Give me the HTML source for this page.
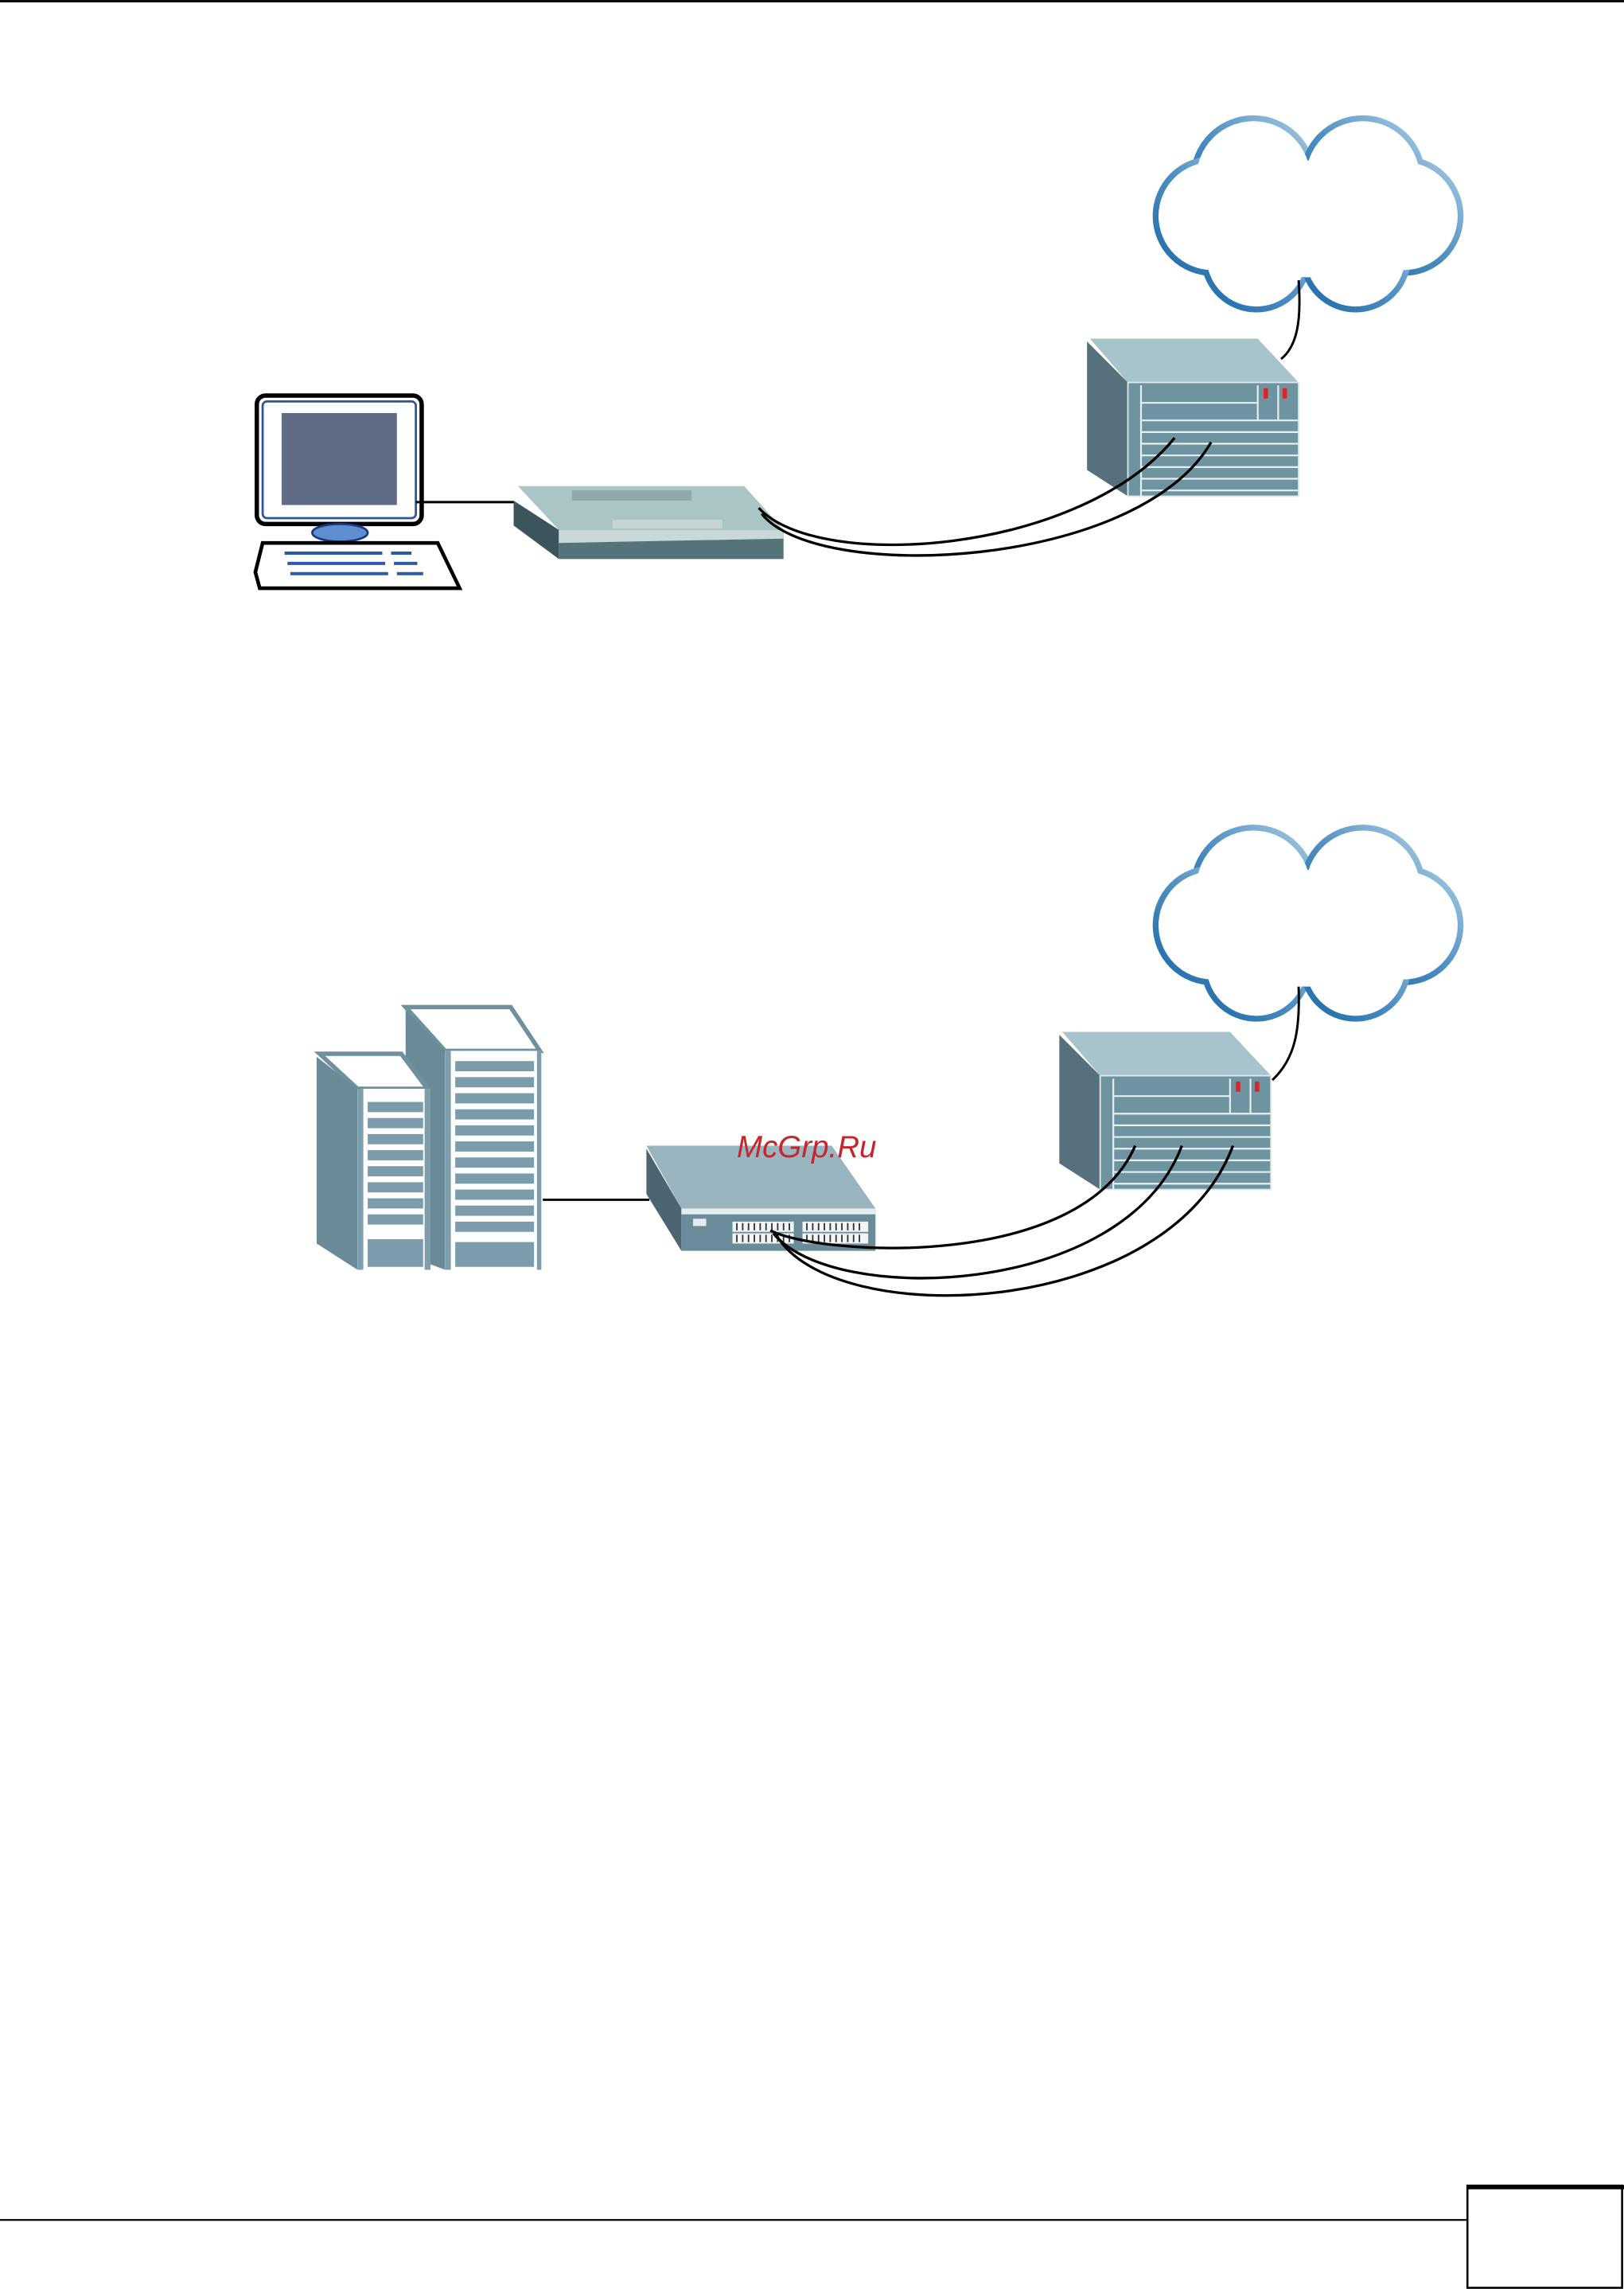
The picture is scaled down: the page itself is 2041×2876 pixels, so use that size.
<!DOCTYPE html>
<html><head><meta charset="utf-8"><style>
html,body{margin:0;padding:0;background:#fff;}
svg{display:block;}
</style></head><body>
<svg width="2041" height="2876" viewBox="0 0 1113 1568.3" xmlns="http://www.w3.org/2000/svg">
<defs>
<linearGradient id="cg" x1="0" y1="1" x2="1" y2="0">
<stop offset="0" stop-color="#1c6aa8"/><stop offset="0.5" stop-color="#4f8fc2"/><stop offset="1" stop-color="#a8cbe3"/>
</linearGradient>
<g id="cloud">
<g fill="none" stroke="url(#cg)" stroke-width="6">
<circle cx="859" cy="122" r="40"/><circle cx="934" cy="122" r="40"/>
<circle cx="831" cy="148" r="38"/><circle cx="962" cy="148" r="38"/>
<circle cx="861" cy="176" r="35"/><circle cx="929" cy="176" r="35"/>
</g>
<g fill="#fff">
<circle cx="859" cy="122" r="39"/><circle cx="934" cy="122" r="39"/>
<circle cx="831" cy="148" r="37"/><circle cx="962" cy="148" r="37"/>
<circle cx="861" cy="176" r="34"/><circle cx="929" cy="176" r="34"/>
<circle cx="896" cy="150" r="40"/>
</g>
</g>
<g id="rack">
<polygon points="747,232 862,232 890,262 773,262" fill="#a7c3cb"/>
<polygon points="745,234 773,262 773,340 745,322" fill="#56707c"/>
<rect x="773" y="262" width="117" height="78" fill="#6e94a2"/>
<rect x="773" y="262" width="117" height="78" fill="none" stroke="#dfe9ec" stroke-width="1"/>
<g stroke="#e6eef0" stroke-width="1.2">
<line x1="782" y1="276" x2="862" y2="276"/>
<line x1="782" y1="288" x2="890" y2="288"/>
<line x1="782" y1="296" x2="890" y2="296"/>
<line x1="782" y1="304" x2="890" y2="304"/>
<line x1="782" y1="312" x2="890" y2="312"/>
<line x1="782" y1="320" x2="890" y2="320"/>
<line x1="782" y1="328" x2="890" y2="328"/>
<line x1="782" y1="336" x2="890" y2="336"/>
<line x1="782" y1="264" x2="782" y2="340"/>
<line x1="862" y1="264" x2="862" y2="288"/>
<line x1="876" y1="264" x2="876" y2="288"/>
</g>
<rect x="866" y="266" width="3" height="7" fill="#d8262a"/>
<rect x="879" y="266" width="3" height="7" fill="#d8262a"/>
</g>
</defs>

<rect x="0" y="0" width="1113" height="1.6" fill="#000"/>
<rect x="0" y="1520.4" width="1005" height="1.2" fill="#000"/>
<rect x="1005.7" y="1497.5" width="106" height="70" fill="none" stroke="#000" stroke-width="1.4"/>
<rect x="1005" y="1497" width="108" height="3" fill="#000"/>

<use href="#cloud"/>
<path d="M890,192 C 892,220 889,237 878,246" fill="none" stroke="#000" stroke-width="1.6"/>
<use href="#rack"/>

<rect x="176" y="271" width="113" height="88" rx="6" fill="#fff" stroke="#000" stroke-width="3"/>
<rect x="180" y="275" width="105" height="80" rx="3" fill="none" stroke="#2a55a0" stroke-width="1.5"/>
<rect x="193" y="283" width="79" height="63" fill="#606b86"/>
<ellipse cx="233" cy="365" rx="19" ry="6" fill="#5e8ed0" stroke="#1a3a80" stroke-width="1.5"/>
<polygon points="180,372 300,372 315,403 178,403 175,392" fill="#fff" stroke="#000" stroke-width="2.5"/>
<g stroke="#2b5aa8" stroke-width="2.2">
<line x1="195" y1="379" x2="262" y2="379"/><line x1="268" y1="379" x2="282" y2="379"/>
<line x1="197" y1="386" x2="264" y2="386"/><line x1="270" y1="386" x2="286" y2="386"/>
<line x1="199" y1="393" x2="266" y2="393"/><line x1="272" y1="393" x2="290" y2="393"/>
</g>
<line x1="285" y1="344" x2="352" y2="344" stroke="#000" stroke-width="1.6"/>

<polygon points="355,333 510,333 537,363 383,363" fill="#a9c5c6"/>
<rect x="392" y="336" width="82" height="7" fill="#8fa9ab"/>
<polygon points="352,343 383,363 383,383 352,360" fill="#3c545c"/>
<rect x="383" y="363" width="154" height="20" fill="#557479"/>
<polygon points="383,363 537,363 537,369 383,372" fill="#c9d9da"/>
<rect x="420" y="356" width="75" height="6" fill="#c5d5d6"/>

<path d="M520,348 C 560,392 740,380 805,300" fill="none" stroke="#000" stroke-width="1.8"/>
<path d="M522,352 C 560,400 780,390 830,303" fill="none" stroke="#000" stroke-width="1.8"/>

<g transform="translate(0,486)"><use href="#cloud"/></g>
<path d="M890,676 C 891,705 888,725 872,740" fill="none" stroke="#000" stroke-width="1.6"/>
<g transform="translate(-19,475)"><use href="#rack"/></g>

<polygon points="278,690 350,690 370,720 305,720" fill="#fff" stroke="#6f909e" stroke-width="3"/>
<polygon points="278,692 305,720 305,870 278,860" fill="#6b8a97"/>
<rect x="305" y="720" width="66" height="150" fill="#fff"/>
<rect x="305" y="720" width="4" height="150" fill="#7e9eab"/>
<rect x="368" y="720" width="3" height="150" fill="#7e9eab"/>
<g fill="#7b9cab">
<rect x="312" y="727" width="54" height="7"/><rect x="312" y="738" width="54" height="7"/>
<rect x="312" y="749" width="54" height="7"/><rect x="312" y="760" width="54" height="7"/>
<rect x="312" y="771" width="54" height="7"/><rect x="312" y="782" width="54" height="7"/>
<rect x="312" y="793" width="54" height="7"/><rect x="312" y="804" width="54" height="7"/>
<rect x="312" y="815" width="54" height="7"/><rect x="312" y="826" width="54" height="7"/>
<rect x="312" y="837" width="54" height="7"/><rect x="312" y="851" width="54" height="17"/>
</g>
<polygon points="219,722 275,722 293,746 245,746" fill="#fff" stroke="#6f909e" stroke-width="3"/>
<polygon points="217,724 245,746 245,870 217,852" fill="#6b8a97"/>
<rect x="245" y="746" width="50" height="124" fill="#fff"/>
<rect x="245" y="746" width="4" height="124" fill="#7e9eab"/>
<rect x="291" y="746" width="4" height="124" fill="#7e9eab"/>
<g fill="#7b9cab">
<rect x="252" y="755" width="38" height="7"/><rect x="252" y="766" width="38" height="7"/>
<rect x="252" y="777" width="38" height="7"/><rect x="252" y="788" width="38" height="7"/>
<rect x="252" y="799" width="38" height="7"/><rect x="252" y="810" width="38" height="7"/>
<rect x="252" y="821" width="38" height="7"/><rect x="252" y="832" width="38" height="7"/>
<rect x="252" y="849" width="38" height="19"/>
</g>
<line x1="372" y1="822" x2="445" y2="822" stroke="#000" stroke-width="1.6"/>

<polygon points="443,785 570,785 600,828 467,828" fill="#99b5c0"/>
<polygon points="443,787 467,828 467,857 443,818" fill="#4d6571"/>
<rect x="467" y="828" width="133" height="29" fill="#6a8c9a"/>
<rect x="467" y="828" width="133" height="4" fill="#e4ecef"/>
<rect x="475" y="835" width="9" height="5" fill="#e4ecef"/>
<g fill="#f2f5f6">
<rect x="502" y="837" width="42" height="7"/><rect x="502" y="845" width="42" height="7"/>
<rect x="550" y="837" width="45" height="7"/><rect x="550" y="845" width="45" height="7"/>
</g>
<g stroke="#333" stroke-width="1">
<path d="M505,838v5M509,838v5M513,838v5M517,838v5M521,838v5M525,838v5M529,838v5M533,838v5M537,838v5M541,838v5M505,846v5M509,846v5M513,846v5M517,846v5M521,846v5M525,846v5M529,846v5M533,846v5M537,846v5M541,846v5"/>
<path d="M553,838v5M557,838v5M561,838v5M565,838v5M569,838v5M573,838v5M577,838v5M581,838v5M585,838v5M589,838v5M553,846v5M557,846v5M561,846v5M565,846v5M569,846v5M573,846v5M577,846v5M581,846v5M585,846v5M589,846v5"/>
</g>

<path d="M528,843 C 560,860 740,872 778,785" fill="none" stroke="#000" stroke-width="1.8"/>
<path d="M530,845 C 570,895 770,890 810,785" fill="none" stroke="#000" stroke-width="1.8"/>
<path d="M532,846 C 570,912 800,905 845,785" fill="none" stroke="#000" stroke-width="1.8"/>

<text x="505" y="793" font-family="Liberation Sans, sans-serif" font-size="21" font-style="italic" fill="#c8242b">McGrp.Ru</text>
</svg>
</body></html>
